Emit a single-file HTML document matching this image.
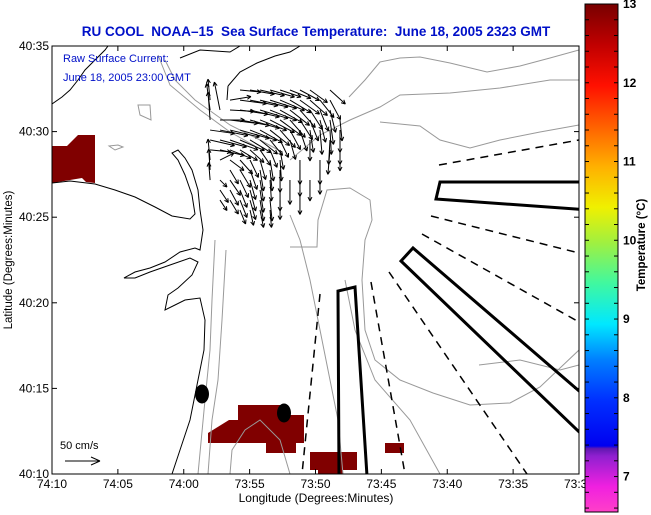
<!DOCTYPE html>
<html><head><meta charset="utf-8"><style>
html,body{margin:0;padding:0;background:#fff;}
svg{display:block;font-family:"Liberation Sans",sans-serif;}
</style></head><body>
<svg id="fig" width="651" height="515" viewBox="0 0 651 515">
<defs>
<linearGradient id="cbgrad" x1="0" y1="1" x2="0" y2="0">
<stop offset="0" stop-color="#ff40c8"/>
<stop offset="0.05" stop-color="#f020e0"/>
<stop offset="0.11" stop-color="#9020d0"/>
<stop offset="0.125" stop-color="#6018b0"/>
<stop offset="0.13" stop-color="#0000f0"/>
<stop offset="0.22" stop-color="#0030ff"/>
<stop offset="0.30" stop-color="#0080ff"/>
<stop offset="0.37" stop-color="#00e8ff"/>
<stop offset="0.45" stop-color="#40f8a0"/>
<stop offset="0.53" stop-color="#a0f040"/>
<stop offset="0.60" stop-color="#f0f000"/>
<stop offset="0.68" stop-color="#ffb000"/>
<stop offset="0.76" stop-color="#ff6000"/>
<stop offset="0.84" stop-color="#ff1000"/>
<stop offset="0.92" stop-color="#c00000"/>
<stop offset="1" stop-color="#780000"/>
</linearGradient>
<clipPath id="plotclip"><rect x="52" y="46" width="527" height="428"/></clipPath>
</defs>

<text x="316" y="36" text-anchor="middle" font-size="13.5" font-weight="bold" fill="#0010c8" style="white-space:pre">RU COOL  NOAA–15  Sea Surface Temperature:  June 18, 2005 2323 GMT</text>

<rect x="52" y="46" width="527" height="428" fill="#fff"/>

<g id="map" clip-path="url(#plotclip)">
<polygon fill="#800000" points="52,146 67,146 78,135 95,135 95,183 86,182 82,178 52,183"/>
<polygon fill="#800000" points="238,405 288,405 288,415 304,415 304,443 296,443 296,453 266,453 266,443 208,443 208,433 229,420 238,420"/>
<polygon fill="#800000" points="310,452 357,452 357,470 343,470 343,474 318,474 318,470 310,470"/>
<rect fill="#800000" x="385" y="443" width="19" height="10"/>

<g fill="none" stroke="#999" stroke-width="1">
<path d="M349,97 L365,80 L380,62 L400,58 L420,57 L450,63 L487,72 L520,66 L550,58 L579,50"/>
<path d="M290,160 L320,135 L350,120 L380,107 L400,95 L450,93 L500,88 L550,80 L579,80"/>
<path d="M380,122 L420,126 L440,140 L470,148 L500,140 L540,132 L579,125"/>
<path d="M290,247 L317,247 L318,220 L327,190 L350,188 L370,200 L372,220 L365,240 L362,280 L365,330 L375,360 L400,380 L433,393 L470,405 L510,403 L540,387 L579,350"/>
<path d="M215,240 L212,300 L210,350 L205,400 L198,474"/>
<path d="M226,250 L222,320 L218,380 L212,420 L208,474"/>
<path d="M165,60 L175,80 L195,100 L230,125 L260,140 L282,152"/>
<path d="M158,55 L170,85 L200,110 L230,132 L255,146"/>
<path d="M290,215 L300,240 L310,280 L320,330 L330,380 L338,420 L343,474"/>
<path d="M345,280 L355,330 L375,380 L410,420 L440,474"/>
<path d="M230,474 L232,450 L245,430 L260,420 L280,440 L290,474"/>
<path d="M479,365 L520,360 L560,370 L579,365"/>
<path d="M109,146 L118,145 L123,147 L115,150 Z"/>
<path d="M138,105 L150,105 L151,120 L140,115 Z"/>
</g>

<g fill="none" stroke="#000" stroke-width="1">
<path d="M52,104 L62,97 L70,90 L78,80 L85,70 L95,60 L105,50 L108,46"/>
<path d="M52,183 L70,181 L95,184 L115,190 L135,197 L155,207 L172,216 L190,219 L195,214 L192,195 L185,175 L178,160 L172,153 L178,150 L185,158 L192,170 L198,190 L200,210 L203,230 L200,250 L195,248 L180,252 L165,262 L150,268 L135,272 L124,278 L135,278 L150,272 L170,265 L190,258 L198,262 L192,275 L178,288 L168,295 L165,310 L175,305 L185,300 L200,298 L205,320 L204,350 L198,380 L190,420 L180,450 L172,474"/>
<path d="M228,86 L240,72 L257,63 L275,56 L290,52 L300,46"/>
<path d="M180,58 L200,50 L230,52 L240,46"/>
<path d="M228,86 L227,100"/>
</g>

<g fill="none" stroke="#000" stroke-width="1.5" stroke-dasharray="8,6">
<line x1="439" y1="165" x2="579" y2="140"/>
<line x1="431" y1="216" x2="579" y2="253"/>
<line x1="422" y1="234" x2="579" y2="322"/>
<line x1="389" y1="272" x2="527" y2="474"/>
<line x1="371" y1="282" x2="405" y2="474"/>
<line x1="320" y1="294" x2="302" y2="474"/>
</g>
<g fill="none" stroke="#000" stroke-width="3">
<polygon points="440,182 590,182 590,210 436,199"/>
<polyline points="600,452 401,261 413,248 600,409"/>
<polyline points="339,476 338,291 355,287 367,476"/>
</g>

<ellipse cx="202" cy="394" rx="7" ry="9.5" fill="#000"/>
<ellipse cx="284" cy="413" rx="7" ry="9.5" fill="#000"/>

<g id="arrows" stroke="#000" stroke-width="1" fill="none"></g>
</g>

<rect x="52" y="46" width="527" height="428" fill="none" stroke="#000" stroke-width="1"/>
<g id="axes" font-size="12" fill="#000"></g>

<text x="63" y="62" font-size="11" fill="#0010c8">Raw Surface Current:</text>
<text x="63" y="81" font-size="11" fill="#0010c8">June 18, 2005 23:00 GMT</text>
<text x="60" y="449" font-size="11" fill="#000">50 cm/s</text>
<g stroke="#000" stroke-width="1">
<line x1="65" y1="461" x2="100" y2="461"/><line x1="100" y1="461" x2="91" y2="457"/><line x1="100" y1="461" x2="91" y2="465"/>
</g>

<text x="316" y="502" text-anchor="middle" font-size="12">Longitude (Degrees:Minutes)</text>
<text transform="translate(12,260) rotate(-90)" text-anchor="middle" font-size="11.5">Latitude (Degrees:Minutes)</text>

<rect x="585" y="4" width="33" height="508" fill="url(#cbgrad)" stroke="#000" stroke-width="1"/>
<g id="cbticks" stroke="#000" stroke-width="1"></g>
<text transform="translate(645,245) rotate(-90)" text-anchor="middle" font-size="11.5" font-weight="bold">Temperature (°C)</text>
</svg>
<script>
const xTickLabels = ["74:10","74:05","74:00","73:55","73:50","73:45","73:40","73:35","73:30"];
const xTickMinutes = [70,65,60,55,50,45,40,35,30];
const yTickLabels = ["40:10","40:15","40:20","40:25","40:30","40:35"];
const yTickMinutes = [10,15,20,25,30,35];
const cbTickValues = [7,8,9,10,11,12,13];
const cbMin = 6.55, cbMax = 13;

const rowLat = [33.6,33.0,32.43,31.84,31.26,30.68,30.09,29.51,28.93,28.34,27.76,27.17,26.59,26.0,25.42];
const colLon = [58.0,57.25,56.49,55.73,54.97,54.21,53.45,52.69,51.94,51.18,50.42,49.66,48.90,48.14];
const uRows = [
[null,null,null,null,null,null,null,null,null,null,null,null,null,null],
[null,null,null,null,null,null,null,null,null,null,null,null,null,null],
[null,null,null,30,35,35,35,30,30,28,25,null,22,null],
[-3,null,30,38,40,40,38,35,30,28,25,20,15,null],
[-5,-8,35,40,42,40,38,32,28,22,18,12,8,null],
[-3,35,40,42,42,38,35,30,22,18,12,8,5,3],
[35,40,42,42,38,32,28,22,15,10,5,3,2,0],
[35,38,40,35,30,25,18,12,8,null,0,null,-2,0],
[30,35,30,25,20,15,10,5,null,null,null,null,-3,0],
[-3,20,20,18,12,8,5,2,null,0,null,0,null,null],
[-2,null,12,15,10,5,3,0,null,0,null,0,null,null],
[-2,10,15,12,8,5,2,null,0,null,0,null,null,null],
[null,12,12,10,8,5,null,0,null,0,null,null,null,null],
[null,10,12,10,8,5,3,0,null,null,null,null,null,null],
[null,null,null,8,5,5,2,null,null,null,null,null,null,null]
];
const vRows = [
[null,null,null,null,null,null,null,null,null,null,null,null,null,null],
[null,null,null,null,null,null,null,null,null,null,null,null,null,null],
[null,null,null,-3,-6,-8,-10,-10,-12,-15,-18,null,-20,null],
[30,null,5,-5,-8,-10,-12,-15,-18,-20,-22,-25,-28,null],
[38,40,-2,-6,-10,-12,-15,-18,-22,-25,-28,-30,-32,null],
[40,0,-5,-8,-12,-15,-18,-22,-25,-28,-30,-32,-35,-30],
[-5,-8,-10,-12,-15,-18,-22,-25,-28,-30,-32,-35,-35,-32],
[-8,-10,-14,-15,-18,-20,-22,-25,-28,null,-30,null,-35,-35],
[-3,-8,-12,-15,-18,-22,-25,-28,null,null,null,null,-35,-30],
[30,10,-15,-20,-25,-28,-30,-30,null,-35,null,-35,null,null],
[30,null,-20,-25,-28,-30,-30,-32,null,-38,null,-35,null,null],
[25,-10,-22,-25,-28,-30,-30,null,-35,null,-30,null,null,null],
[null,-18,-22,-25,-30,-32,null,-30,null,-35,null,null,null,null],
[null,-15,-20,-25,-28,-30,-30,-28,null,null,null,null,null,null],
[null,null,null,-20,-22,-25,-25,null,null,null,null,null,null,null]
];

const NS = "http://www.w3.org/2000/svg";
const X0 = 52, X1 = 579, Y0 = 474, Y1 = 46;
function xScale(lonMin){ return X0 + (70 - lonMin) * (X1 - X0) / 40; }
function yScale(latMin){ return Y0 - (latMin - 10) * (Y0 - Y1) / 25; }
function cbScale(t){ return 512 - (t - cbMin) * (512 - 4) / (cbMax - cbMin); }
const pxPerCm = 0.7;

function mk(tag, attrs, parent){
  const e = document.createElementNS(NS, tag);
  for (const k in attrs) e.setAttribute(k, attrs[k]);
  parent.appendChild(e);
  return e;
}

const axes = document.getElementById("axes");
xTickMinutes.forEach((m, i) => {
  const x = xScale(m);
  const t = mk("line", {x1:x, y1:Y0, x2:x, y2:Y0-5, stroke:"#000"}, axes);
  
  
  const t2 = mk("line", {x1:x, y1:Y1, x2:x, y2:Y1+5, stroke:"#000"}, axes);
  
  
  const lb = mk("text", {x:x, y:488, "text-anchor":"middle"}, axes);
  lb.textContent = xTickLabels[i];
  
  
});
yTickMinutes.forEach((m, i) => {
  const y = yScale(m);
  const t = mk("line", {x1:X0, y1:y, x2:X0+5, y2:y, stroke:"#000"}, axes);
  
  
  const t2 = mk("line", {x1:X1, y1:y, x2:X1-5, y2:y, stroke:"#000"}, axes);
  
  
  const lb = mk("text", {x:49, y:y+4, "text-anchor":"end"}, axes);
  lb.textContent = yTickLabels[i];
  
  
});

const arrows = document.getElementById("arrows");
rowLat.forEach((lat, r) => {
  colLon.forEach((lon, c) => {
    const u = uRows[r][c], v = vRows[r][c];
    if (u === null || v === null) return;
    const x = xScale(lon), y = yScale(lat);
    const dx = u * pxPerCm, dy = -v * pxPerCm;
    const x2 = x + dx, y2 = y + dy;
    const L = Math.hypot(dx, dy) || 1;
    const ux = dx / L, uy = dy / L;
    const h = 4;
    const d = `M${x},${y}L${x2},${y2}M${x2},${y2}L${x2 - h*ux - 2*uy},${y2 - h*uy + 2*ux}M${x2},${y2}L${x2 - h*ux + 2*uy},${y2 - h*uy - 2*ux}`;
    const p = mk("path", {d:d}, arrows);
    
    
  });
});

const cbt = document.getElementById("cbticks");
for (let t = 6.6; t <= 13.001; t += 0.2) {
  const y = cbScale(t);
  const a = mk("line", {x1:585, y1:y, x2:589, y2:y}, cbt);
  
  
  const b = mk("line", {x1:618, y1:y, x2:614, y2:y}, cbt);
  
  
}
cbTickValues.forEach(v => {
  const y = cbScale(v);
  const lb = mk("text", {x:623, y:y+4, "font-size":"12", "font-weight":"bold", stroke:"none", fill:"#000"}, cbt);
  lb.textContent = String(v);
  
  
});
</script>
</body></html>
